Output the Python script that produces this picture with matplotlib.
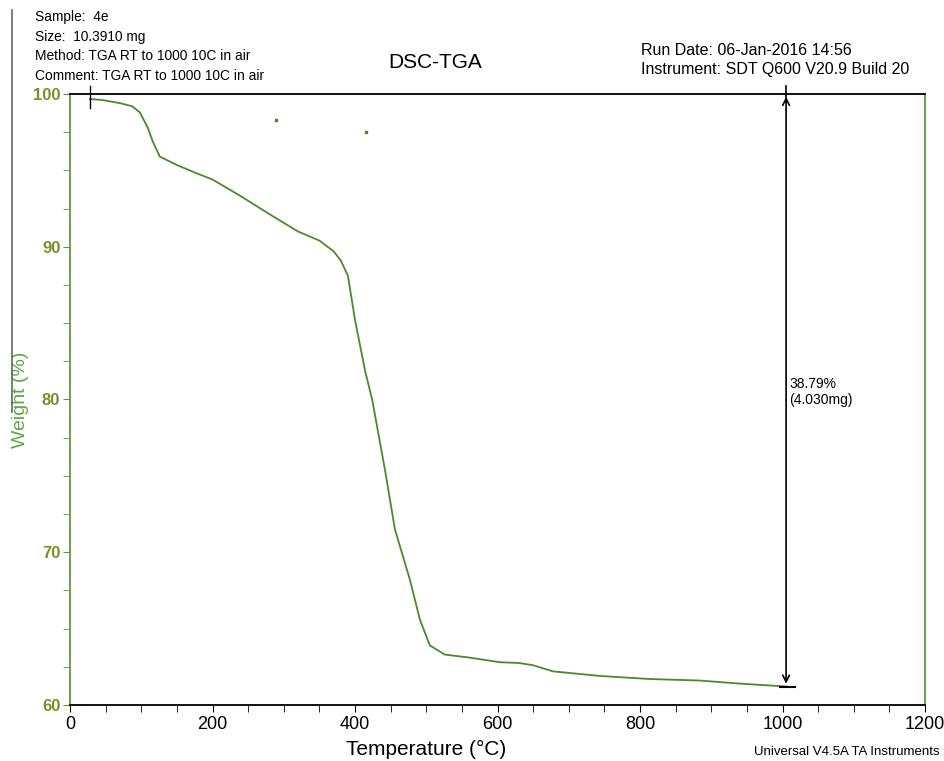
import numpy as np
import matplotlib.pyplot as plt
from matplotlib.ticker import MultipleLocator

# TGA curve
temp = [28, 46, 70, 87, 98, 109, 116, 126, 150, 178, 200, 240, 281, 320, 350, 370, 380, 390,
        400, 414, 424, 442, 456, 477, 491, 505, 526, 561, 603, 630, 650, 678, 744, 814, 884, 940, 1005]
weight = [99.67, 99.6, 99.4, 99.2, 98.8, 97.8, 96.9, 95.9, 95.35, 94.8, 94.4, 93.3, 92.1, 91.0, 90.4,
          89.7, 89.1, 88.1, 85.2, 81.9, 80.0, 75.4, 71.5, 68.2, 65.6, 63.9, 63.3, 63.1, 62.8, 62.75,
          62.6, 62.2, 61.9, 61.7, 61.6, 61.4, 61.21]
stray_t = [289, 415]
stray_w = [98.3, 97.5]
start_t = 28
step_t = 1005
step_top = 100.0
step_bottom = 61.21
step_label = '38.79%\n(4.030mg)'

green = '#4a8a2a'
olive = '#7a8f2a'
spine_green = '#5e9a3c'

plt.rcParams['font.family'] = ['Liberation Sans', 'DejaVu Sans']
narrow = ['Liberation Sans Narrow', 'Liberation Sans', 'DejaVu Sans']

fig = plt.figure(figsize=(9.44, 7.61), dpi=100)
ax = fig.add_axes([0.0742, 0.0736, 0.9057, 0.8029])

ax.plot(temp, weight, color=green, lw=1.3)
ax.scatter(stray_t, stray_w, s=2, color=green, marker='s')

ax.set_xlim(0, 1200)
ax.set_ylim(60, 100)

# start marker on top axis
ax.plot([start_t, start_t], [99.1, 100.5], color='black', lw=1, clip_on=False)

# weight-loss step annotation
ax.annotate('', xy=(step_t, step_bottom), xytext=(step_t, step_top),
            arrowprops=dict(arrowstyle='<->', color='black', lw=1.2, mutation_scale=12), annotation_clip=False)
ax.plot([step_t, step_t], [99.5, 100.5], color='black', lw=1.2, clip_on=False)
ax.plot([step_t - 8, step_t + 12], [step_bottom, step_bottom], color='black', lw=1.5)
ax.text(step_t + 4, 80.5, step_label, fontsize=10, va='center', ha='left')

ax.xaxis.set_major_locator(MultipleLocator(200))
ax.xaxis.set_minor_locator(MultipleLocator(50))
ax.yaxis.set_major_locator(MultipleLocator(10))
ax.yaxis.set_minor_locator(MultipleLocator(2.5))
ax.tick_params(axis='x', which='both', direction='out', length=5, color='black', labelsize=13, pad=3)
ax.tick_params(axis='y', which='both', direction='out', length=5, color=spine_green, labelsize=12,
               labelcolor=olive, pad=2)
for lab in ax.get_xticklabels():
    lab.set_family(narrow)
for lab in ax.get_yticklabels():
    lab.set_fontweight('bold')

ax.spines['left'].set_color(spine_green)
ax.spines['right'].set_color(spine_green)
ax.spines['top'].set_color('black')
ax.spines['bottom'].set_color('black')
for s in ax.spines.values():
    s.set_linewidth(1.3)

ax.set_xlabel('Temperature (°C)', fontsize=15, family=narrow, va='center')
ax.xaxis.set_label_coords(0.417, -0.072)
ax.set_ylabel('Weight (%)', fontsize=14, color='#5aa844', va='center')
ax.yaxis.set_label_coords(-0.058, 0.5)

# header texts
fig.text(35 / 944, 1 - 10 / 761, 'Sample:  4e\nSize:  10.3910 mg\nMethod: TGA RT to 1000 10C in air\nComment: TGA RT to 1000 10C in air',
         fontsize=9.9, va='top', ha='left', linespacing=1.52)
fig.text(435 / 944, 1 - 63 / 761, 'DSC-TGA', fontsize=15, ha='center', va='center')
fig.text(641 / 944, 1 - 43 / 761, 'Run Date: 06-Jan-2016 14:56\nInstrument: SDT Q600 V20.9 Build 20',
         fontsize=11.5, ha='left', va='top', linespacing=1.33)
fig.text(940 / 944, 1 - 752 / 761, 'Universal V4.5A TA Instruments', fontsize=9.5, family=narrow,
         ha='right', va='center')

# stray left border line
fig.add_artist(plt.Line2D([12 / 944, 12 / 944], [1 - 10 / 761, 1 - 412 / 761], color='#666666', lw=1.2))

fig.savefig('out.png', dpi=100)
